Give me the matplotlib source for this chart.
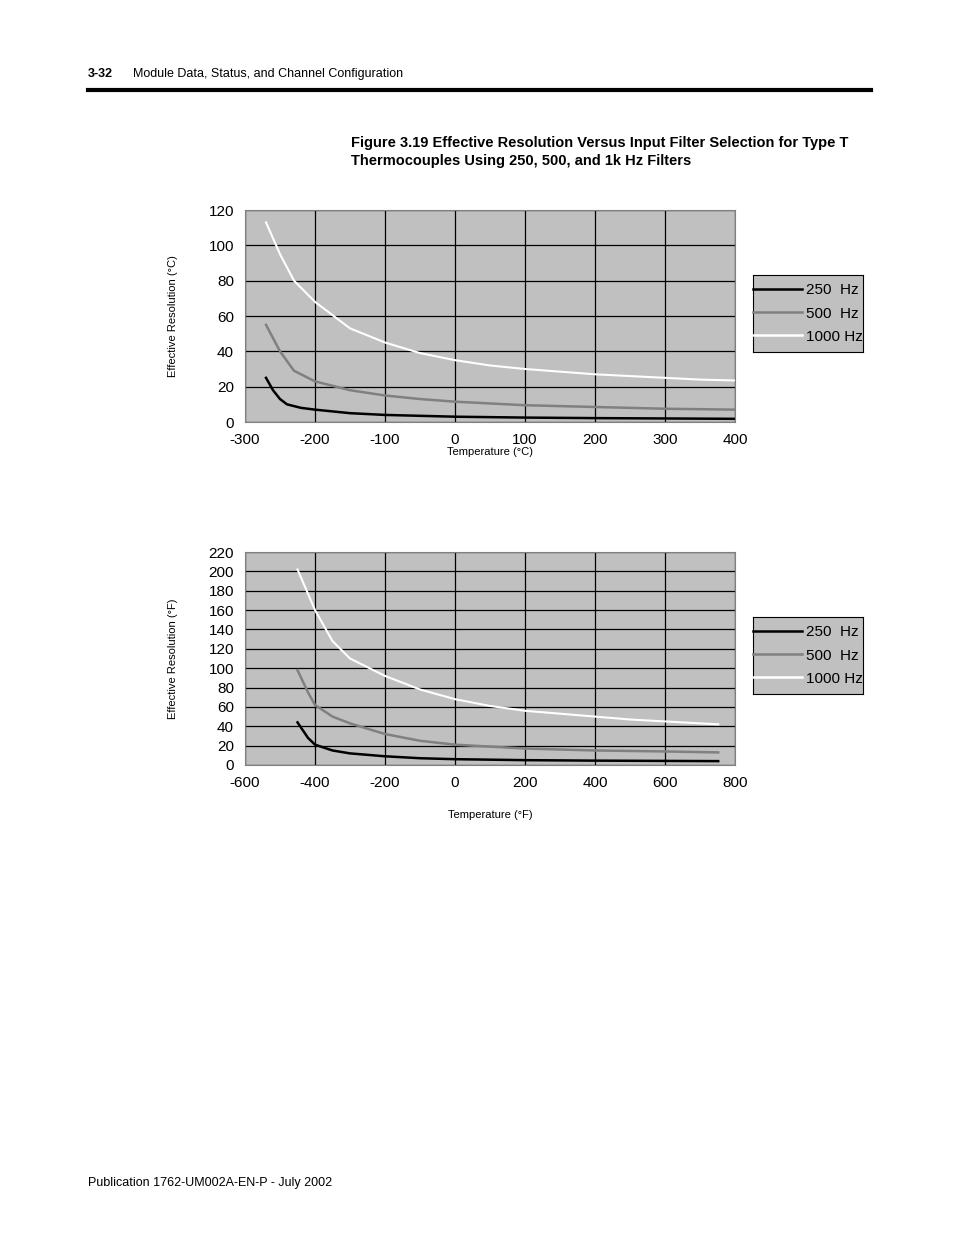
import matplotlib
matplotlib.use("Agg")
import matplotlib.pyplot as plt
from matplotlib.lines import Line2D

plt.rcParams['font.family'] = ['Liberation Sans Narrow', 'Liberation Sans', 'DejaVu Sans']

# Celsius chart data
c_x1000 = [-270, -250, -230, -200, -150, -100, -50, 0, 50, 100, 150, 200, 250, 300, 350, 400]
c_y1000 = [113, 95, 80, 68, 53, 45, 39, 35, 32, 30, 28.5, 27, 26, 25, 24, 23.5]
c_x500 = [-270, -250, -230, -220, -200, -150, -100, -50, 0, 100, 200, 300, 400]
c_y500 = [55, 40, 29, 27, 23, 18, 15, 13, 11.5, 9.5, 8.5, 7.5, 7]
c_x250 = [-270, -260, -250, -240, -220, -200, -150, -100, 0, 100, 200, 400]
c_y250 = [25, 18, 13, 10, 8, 7, 5, 4, 3, 2.5, 2.2, 1.8]

# Fahrenheit chart data
f_x1000 = [-450, -400, -350, -300, -200, -100, 0, 100, 200, 300, 400, 500, 600, 752]
f_y1000 = [202, 160, 128, 110, 92, 78, 68, 61, 56, 53, 50, 47, 45, 42]
f_x500 = [-450, -420, -400, -350, -300, -200, -100, 0, 100, 200, 400, 600, 752]
f_y500 = [98, 75, 62, 50, 43, 32, 25, 21, 19, 17, 15, 14, 13]
f_x250 = [-450, -420, -400, -350, -300, -200, -100, 0, 200, 400, 752]
f_y250 = [44, 28, 21, 15, 12, 9, 7, 6, 5, 4.5, 4]

series_labels = ['250  Hz', '500  Hz', '1000 Hz']
series_colors = ['black', '#808080', 'white']

fig = plt.figure(figsize=(9.54, 12.35), dpi=100)
W, H = 954, 1235

def ax_at(x0, y0, x1, y1):
    return fig.add_axes([x0 / W, 1 - y1 / H, (x1 - x0) / W, (y1 - y0) / H])

def style(ax, xlim, xt, ylim, yt, xlabel, ylabel, xlab_y):
    ax.set_facecolor('#c0c0c0')
    ax.set_xlim(*xlim); ax.set_ylim(*ylim)
    ax.set_xticks(xt); ax.set_yticks(yt)
    ax.set_xticklabels([str(v) for v in xt], fontsize=11)
    ax.set_yticklabels([str(v) for v in yt], fontsize=11)
    ax.grid(True, color='black', linewidth=0.9)
    ax.set_axisbelow(True)
    ax.tick_params(length=0, pad=8)
    for s in ax.spines.values():
        s.set_color('#808080')
    ax.set_xlabel(xlabel, fontsize=8, labelpad=xlab_y)
    ax.set_ylabel(ylabel, fontsize=8, labelpad=22)

def legend(x0, y0, x1, y1):
    lax = ax_at(x0, y0, x1, y1)
    lax.set_xticks([]); lax.set_yticks([])
    lax.set_facecolor('#c0c0c0')
    for s in lax.spines.values():
        s.set_color('black')
    handles = [Line2D([0], [0], color=c, lw=1.8) for c in series_colors]
    lax.legend(handles, series_labels, loc='center', frameon=False, fontsize=11,
               handlelength=3.2, handletextpad=0.3, labelspacing=0.6)

ax1 = ax_at(245, 210, 735, 422)
ax1.plot(c_x250, c_y250, color=series_colors[0], lw=1.8)
ax1.plot(c_x500, c_y500, color=series_colors[1], lw=1.8)
ax1.plot(c_x1000, c_y1000, color=series_colors[2], lw=1.5)
style(ax1, (-300, 400), list(range(-300, 401, 100)), (0, 120), list(range(0, 121, 20)),
      'Temperature (°C)', 'Effective Resolution (°C)', 0)
legend(753, 275, 863, 352)

ax2 = ax_at(245, 552, 735, 765)
ax2.plot(f_x250, f_y250, color=series_colors[0], lw=1.8)
ax2.plot(f_x500, f_y500, color=series_colors[1], lw=1.8)
ax2.plot(f_x1000, f_y1000, color=series_colors[2], lw=1.5)
style(ax2, (-600, 800), list(range(-600, 801, 200)), (0, 220), list(range(0, 221, 20)),
      'Temperature (°F)', 'Effective Resolution (°F)', 14)
legend(753, 617, 863, 694)

fig.text(88 / W, 1 - 74 / H, '3-32', fontsize=9, fontweight='bold', va='center')
fig.text(133 / W, 1 - 74 / H, 'Module Data, Status, and Channel Configuration', fontsize=9, va='center')
fig.add_artist(Line2D([88 / W, 871 / W], [1 - 90 / H, 1 - 90 / H], color='black', lw=3))
fig.text(351 / W, 1 - 143 / H, 'Figure 3.19 Effective Resolution Versus Input Filter Selection for Type T',
         fontsize=10.5, fontweight='bold', va='center')
fig.text(351 / W, 1 - 161 / H, 'Thermocouples Using 250, 500, and 1k Hz Filters',
         fontsize=10.5, fontweight='bold', va='center')
fig.text(88 / W, 1 - 1183 / H, 'Publication 1762-UM002A-EN-P - July 2002', fontsize=9, va='center')

fig.savefig('out.png', dpi=100)
